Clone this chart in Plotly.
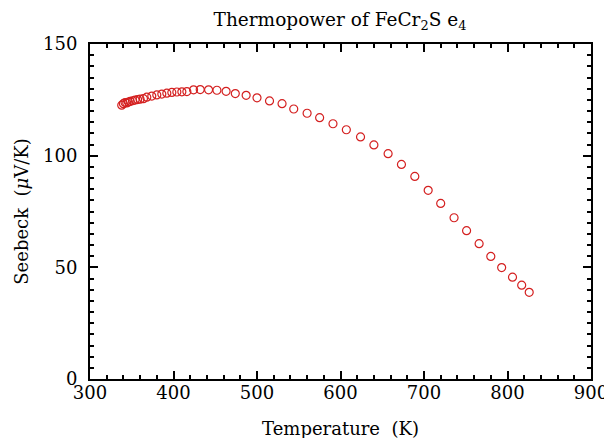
import plotly.graph_objects as go

temperature = [338, 340, 342, 344, 346, 348, 351, 354, 357, 360,
               364, 368, 374, 380, 386, 392, 398, 404, 410, 416,
               424, 432, 442, 452, 463, 474, 487, 500, 515, 530,
               544, 560, 575, 591, 607, 624, 640, 657, 673, 689,
               705, 720, 736, 751, 766, 780, 793, 806, 817, 826]
seebeck = [122.6, 123.3, 123.8, 123.6, 124.0, 124.3, 124.6, 124.9, 125.1, 125.3,
           125.5, 126.2, 126.7, 127.2, 127.6, 128.0, 128.3, 128.5, 128.6, 128.7,
           129.5, 129.6, 129.5, 129.3, 128.8, 127.8, 127.0, 125.9, 124.5, 123.3,
           120.9, 119.0, 117.0, 114.3, 111.6, 108.4, 104.8, 100.9, 96.1, 90.7,
           84.5, 78.6, 72.2, 66.4, 60.6, 54.9, 49.9, 45.6, 42.0, 38.8]

x_ticks = [300, 400, 500, 600, 700, 800, 900]
y_ticks = [0, 50, 100, 150]

FONT = "DejaVu Serif, Liberation Serif, serif"

fig = go.Figure()
fig.add_trace(go.Scatter(
    x=temperature, y=seebeck, mode="markers",
    marker=dict(symbol="circle-open", size=8, color="#d42020",
                line=dict(width=1.2, color="#d42020")),
    showlegend=False))

axis_common = dict(
    showgrid=False, zeroline=False, showline=True, linecolor="black", linewidth=2,
    mirror="ticks", ticks="inside", tickwidth=2, ticklen=8, tickcolor="black",
    tickfont=dict(family=FONT, size=18, color="black"), automargin=False,
)

fig.update_xaxes(range=[300, 900], tickvals=x_ticks, ticktext=[str(v) for v in x_ticks],
                 minor=dict(dtick=20, ticks="inside", ticklen=4, tickwidth=1.5, tickcolor="black"),
                 ticklabelstandoff=-4,
                 title=dict(text="Temperature  (K)", font=dict(family=FONT, size=18, color="black"),
                            standoff=21),
                 **axis_common)
fig.update_yaxes(range=[0, 150], tickvals=y_ticks, ticktext=[str(v) for v in y_ticks],
                 minor=dict(dtick=5, ticks="inside", ticklen=4, tickwidth=1.5, tickcolor="black"),
                 ticklabelstandoff=7,
                 title=dict(text="Seebeck  (<i>μ</i>V/K)", font=dict(family=FONT, size=18, color="black"),
                            standoff=10),
                 **axis_common)

fig.update_layout(
    width=612, height=438,
    margin=dict(l=82, r=29, t=36, b=67),
    paper_bgcolor="white", plot_bgcolor="white",
    title=dict(text="Thermopower of FeCr<sub>2</sub>S e<sub>4</sub>",
               font=dict(family=FONT, size=18.5, color="black"),
               x=0.5425, xanchor="center", y=0.973, yanchor="middle"),
)

fig.write_html("out.html")
